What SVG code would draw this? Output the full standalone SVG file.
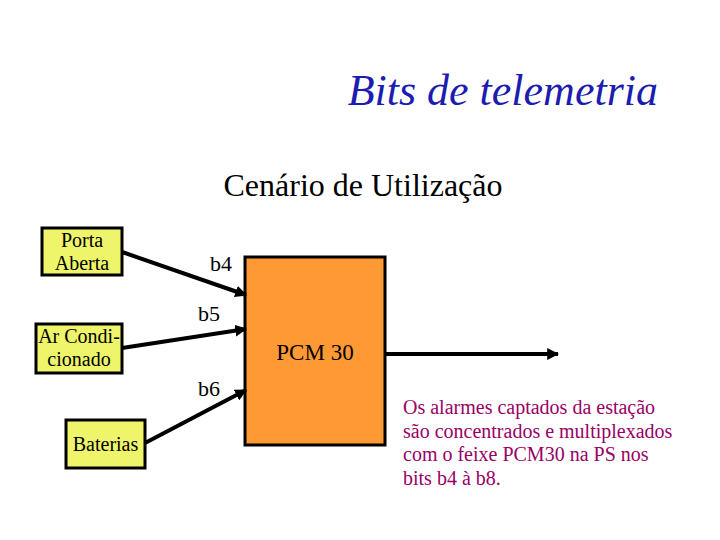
<svg xmlns="http://www.w3.org/2000/svg" width="720" height="540" viewBox="0 0 720 540">
<defs>
<style>
text{font-family:"Liberation Serif","Times New Roman",serif;}
.box{fill:#EEF56A;stroke:#000;stroke-width:3;}
.bt{font-size:20px;text-anchor:middle;fill:#000;}
.lbl{font-size:22px;fill:#000;}
.con{stroke:#000;stroke-width:4;fill:none;marker-end:url(#ah);}
.note{font-size:20px;fill:#990066;}
</style>
<marker id="ah" viewBox="0 0 10 10" refX="9" refY="5" markerWidth="3" markerHeight="3" orient="auto" markerUnits="strokeWidth">
<path d="M0,0 L10,5 L0,10 z" fill="#000"/>
</marker>
</defs>
<rect width="720" height="540" fill="#fff"/>
<text x="658" y="105" font-size="44" font-style="italic" fill="#1C1CB0" text-anchor="end">Bits de telemetria</text>
<text x="363" y="196" font-size="32" text-anchor="middle" fill="#000">Cenário de Utilização</text>
<g id="porta">
<rect class="box" x="42" y="228" width="80" height="47"/>
<text class="bt" x="82" y="247">Porta</text>
<text class="bt" x="82" y="270">Aberta</text>
</g>
<g id="ar">
<rect class="box" x="36" y="324" width="86" height="49"/>
<text class="bt" x="79" y="343">Ar Condi-</text>
<text class="bt" x="79" y="366">cionado</text>
</g>
<g id="baterias">
<rect class="box" x="66" y="420" width="79" height="48"/>
<text class="bt" x="105.5" y="451">Baterias</text>
</g>
<g id="pcm">
<rect x="245" y="257" width="140" height="188" fill="#FF9933" stroke="#000" stroke-width="3"/>
<text x="315" y="360" font-size="23" text-anchor="middle" fill="#000">PCM 30</text>
</g>
<g id="connectors">
<line class="con" x1="122" y1="252" x2="246" y2="295"/>
<line class="con" x1="122" y1="348" x2="246" y2="329"/>
<line class="con" x1="145" y1="443" x2="246" y2="390"/>
<line class="con" x1="385" y1="354" x2="558" y2="354" stroke-width="3"/>
<text class="lbl" x="210" y="271">b4</text>
<text class="lbl" x="198" y="321">b5</text>
<text class="lbl" x="198" y="396">b6</text>
</g>
<g id="note">
<text class="note" x="403" y="414">Os alarmes captados da estação</text>
<text class="note" x="403" y="438">são concentrados e multiplexados</text>
<text class="note" x="403" y="461">com o feixe PCM30 na PS nos</text>
<text class="note" x="403" y="485">bits b4 à b8.</text>
</g>
</svg>
